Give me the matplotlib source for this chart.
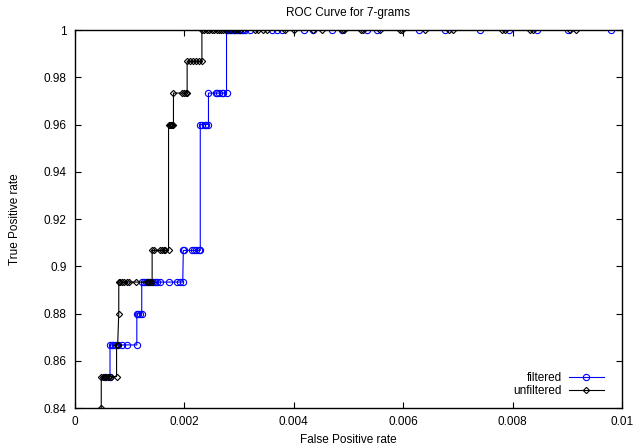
import numpy as np
import matplotlib
matplotlib.use("Agg")
from matplotlib import pyplot as plt

# ROC points (false positive rate, true positive rate)
filtered_fpr = [
    0.00055, 0.00064,
    0.00064, 0.00067, 0.00070, 0.00073, 0.00079, 0.00086, 0.00095, 0.00113,
    0.00113, 0.00116, 0.00119, 0.00122,
    0.00122, 0.00126, 0.00130, 0.00134, 0.00138, 0.00142, 0.00146, 0.00150,
    0.00155, 0.00171, 0.00186, 0.00192, 0.00197,
    0.00198, 0.00200, 0.00214, 0.00218, 0.00222, 0.00226, 0.00229,
    0.00229, 0.00233, 0.00237, 0.00240, 0.00244,
    0.00244, 0.00257, 0.00260, 0.00264, 0.00268, 0.00271, 0.00277,
    0.00277, 0.00280, 0.00284, 0.00287, 0.00290, 0.00293, 0.00296, 0.00299,
    0.00302, 0.00305, 0.00308, 0.00311, 0.00320, 0.00360, 0.00369, 0.00378,
    0.00418, 0.00436, 0.00470, 0.00488, 0.00534, 0.00552, 0.00628, 0.00677,
    0.00741, 0.00793, 0.00845, 0.00902, 0.00979,
]
filtered_tpr = (
    [0.8533] * 2
    + [0.8667] * 8
    + [0.8800] * 4
    + [0.8933] * 13
    + [0.9067] * 7
    + [0.9600] * 5
    + [0.9733] * 7
    + [1.0] * 29
)

unfiltered_fpr = [
    0.00048,
    0.00048, 0.00051, 0.00054, 0.00057, 0.00060, 0.00063, 0.00065, 0.00076,
    0.00076, 0.00078,
    0.00080,
    0.00080, 0.00083, 0.00086, 0.00089, 0.00095, 0.00098, 0.00112, 0.00131,
    0.00134, 0.00137, 0.00141,
    0.00141, 0.00145, 0.00156, 0.00159, 0.00162, 0.00165, 0.00171,
    0.00171, 0.00173, 0.00175, 0.00177, 0.00180,
    0.00180, 0.00195, 0.00199, 0.00203, 0.00205,
    0.00205, 0.00210, 0.00216, 0.00221, 0.00227, 0.00232,
    0.00232, 0.00236, 0.00241, 0.00245, 0.00250, 0.00254, 0.00259, 0.00263,
    0.00267, 0.00271, 0.00276, 0.00284, 0.00290, 0.00296, 0.00302, 0.00329,
    0.00335, 0.00344, 0.00351, 0.00384, 0.00401, 0.00435, 0.00451, 0.00488,
    0.00491, 0.00523, 0.00527, 0.00558, 0.00595, 0.00598, 0.00640, 0.00683,
    0.00691, 0.00780, 0.00787, 0.00832, 0.00838, 0.00905, 0.00916, 0.01020,
]
unfiltered_tpr = (
    [0.84]
    + [0.8533] * 8
    + [0.8667] * 2
    + [0.88]
    + [0.8933] * 11
    + [0.9067] * 7
    + [0.96] * 5
    + [0.9733] * 5
    + [0.9867] * 6
    + [1.0] * 40
)

x_ticks = [0, 0.002, 0.004, 0.006, 0.008, 0.01]
x_labels = ["0", "0.002", "0.004", "0.006", "0.008", "0.01"]
y_ticks = [0.84, 0.86, 0.88, 0.9, 0.92, 0.94, 0.96, 0.98, 1.0]
y_labels = ["0.84", "0.86", "0.88", "0.9", "0.92", "0.94", "0.96", "0.98", "1"]

plt.rcParams["font.family"] = ["Liberation Sans", "DejaVu Sans"]
plt.rcParams["font.size"] = 8.5

W, H = 634, 448
fig = plt.figure(figsize=(W / 100, H / 100), dpi=100)
ax = fig.add_axes([75 / W, 1 - 408 / H, (622 - 75) / W, (408 - 30) / H])

ax.plot(filtered_fpr, filtered_tpr, color="#0000ff", lw=0.8, marker="o",
        ms=4.5, mfc="none", mec="#0000ff", mew=0.8, label="filtered")
ax.plot(unfiltered_fpr, unfiltered_tpr, color="black", lw=0.8, marker="D",
        ms=3.2, mfc="none", mec="black", mew=0.8, label="unfiltered")

ax.set_xlim(0, 0.01)
ax.set_ylim(0.84, 1.0)
ax.set_xticks(x_ticks)
ax.set_xticklabels(x_labels)
ax.set_yticks(y_ticks)
ax.set_yticklabels(y_labels)
ax.tick_params(direction="in", length=4, width=0.8, top=True, right=True,
               labelsize=8.5)
ax.tick_params(axis="y", pad=6)
ax.tick_params(axis="x", pad=6)
for s in ax.spines.values():
    s.set_linewidth(1.0)

ax.set_title("ROC Curve for 7-grams", fontsize=8.5, pad=10)
ax.set_xlabel("False Positive rate", fontsize=8.5, labelpad=4)
ax.set_ylabel("True Positive rate", fontsize=8.5, labelpad=16)

ax.legend(loc="lower right", bbox_to_anchor=(610 / W, 1 - 403 / H),
          bbox_transform=fig.transFigure, frameon=False, markerfirst=False,
          handlelength=3.0, handletextpad=0.6, labelspacing=0.1,
          borderpad=0, fontsize=8.5)

fig.savefig("out.png", dpi=100)
